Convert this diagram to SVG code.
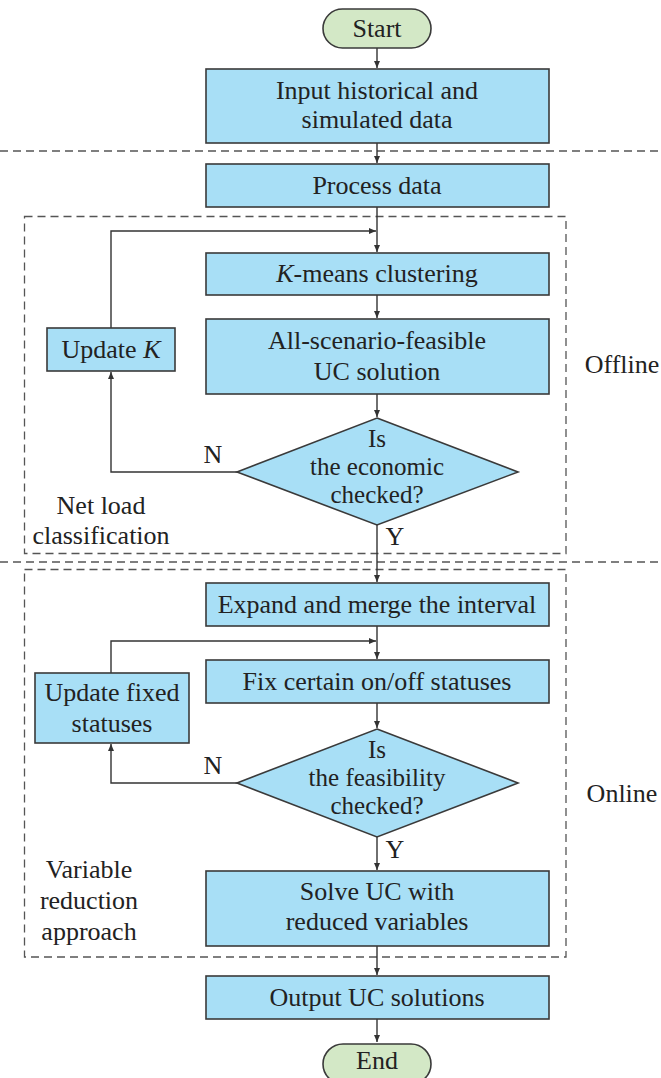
<svg xmlns="http://www.w3.org/2000/svg" width="661" height="1078" viewBox="0 0 661 1078">
<style>
text{font-family:"Liberation Serif","Times New Roman",serif;font-size:26px;fill:#222;text-anchor:middle}
.dt{font-size:25px}
.box{fill:#a8dff6;stroke:#3a3a3a;stroke-width:1.6}
.term{fill:#d3e8c6;stroke:#3a3a3a;stroke-width:1.6}
.con{fill:none;stroke:#333;stroke-width:1.4}
.dash{fill:none;stroke:#555;stroke-width:1.3;stroke-dasharray:8 5}
</style>
<defs>
<marker id="ah" markerWidth="8" markerHeight="8" refX="7" refY="4" orient="auto" markerUnits="userSpaceOnUse">
<path d="M0,1 L7,4 L0,7 z" fill="#333"/>
</marker>
</defs>
<rect width="661" height="1078" fill="#fff"/>
<g id="separators">
<line class="dash" x1="0" y1="151" x2="661" y2="151"/>
<line class="dash" x1="0" y1="562" x2="661" y2="562"/>
<rect id="offline-region" class="dash" x="24.5" y="216.5" width="541.5" height="337"/>
<rect id="online-region" class="dash" x="24.5" y="569.5" width="541.5" height="387.5"/>
</g>
<g id="connectors">
<line class="con" x1="377" y1="48" x2="377" y2="68" marker-end="url(#ah)"/>
<line class="con" x1="377" y1="143" x2="377" y2="163" marker-end="url(#ah)"/>
<line class="con" x1="377" y1="207" x2="377" y2="252" marker-end="url(#ah)"/>
<polyline class="con" points="111,328 111,231 376,231" marker-end="url(#ah)"/>
<line class="con" x1="377" y1="295" x2="377" y2="318" marker-end="url(#ah)"/>
<line class="con" x1="377" y1="394" x2="377" y2="417" marker-end="url(#ah)"/>
<polyline class="con" points="237,472 111,472 111,372" marker-end="url(#ah)"/>
<line class="con" x1="377" y1="525" x2="377" y2="582" marker-end="url(#ah)"/>
<line class="con" x1="377" y1="626" x2="377" y2="659" marker-end="url(#ah)"/>
<polyline class="con" points="111,673 111,641 376,641" marker-end="url(#ah)"/>
<line class="con" x1="377" y1="703" x2="377" y2="728" marker-end="url(#ah)"/>
<polyline class="con" points="237,783 111,783 111,744" marker-end="url(#ah)"/>
<line class="con" x1="377" y1="837" x2="377" y2="870" marker-end="url(#ah)"/>
<line class="con" x1="377" y1="946" x2="377" y2="975" marker-end="url(#ah)"/>
<line class="con" x1="377" y1="1019" x2="377" y2="1042" marker-end="url(#ah)"/>
<text x="213" y="463">N</text>
<text x="395" y="545">Y</text>
<text x="213" y="774">N</text>
<text x="395" y="858">Y</text>
</g>
<g id="start"><rect class="term" x="323" y="9" width="108" height="39" rx="19.5"/><text x="377" y="37">Start</text></g>
<g id="input"><rect class="box" x="206" y="69" width="343" height="74"/><text x="377" y="99">Input historical and</text><text x="377" y="128">simulated data</text></g>
<g id="process"><rect class="box" x="206" y="164" width="343" height="43"/><text x="377" y="194">Process data</text></g>
<g id="kmeans"><rect class="box" x="206" y="253" width="343" height="42"/><text x="377" y="282"><tspan font-style="italic">K</tspan>-means clustering</text></g>
<g id="allscenario"><rect class="box" x="206" y="319" width="343" height="75"/><text x="377" y="349">All-scenario-feasible</text><text x="377" y="380">UC solution</text></g>
<g id="updatek"><rect class="box" x="47" y="328" width="128" height="43"/><text x="111" y="358">Update <tspan font-style="italic">K</tspan></text></g>
<g id="economic"><polygon class="box" points="377,418 518,472 377,525 237,472"/><text class="dt" x="377" y="447">Is</text><text class="dt" x="377" y="475">the economic</text><text class="dt" x="377" y="503">checked?</text></g>
<g id="expand"><rect class="box" x="206" y="583" width="343" height="43"/><text x="377" y="613">Expand and merge the interval</text></g>
<g id="fix"><rect class="box" x="206" y="660" width="343" height="43"/><text x="377" y="690">Fix certain on/off statuses</text></g>
<g id="updatefixed"><rect class="box" x="35" y="673" width="154" height="70"/><text x="112" y="701">Update fixed</text><text x="112" y="732">statuses</text></g>
<g id="feasibility"><polygon class="box" points="377,729 518,783 377,837 237,783"/><text class="dt" x="377" y="758">Is</text><text class="dt" x="377" y="786">the feasibility</text><text class="dt" x="377" y="814">checked?</text></g>
<g id="solve"><rect class="box" x="206" y="871" width="343" height="75"/><text x="377" y="900">Solve UC with</text><text x="377" y="930">reduced variables</text></g>
<g id="output"><rect class="box" x="206" y="976" width="343" height="43"/><text x="377" y="1006">Output UC solutions</text></g>
<g id="end"><rect class="term" x="323" y="1044" width="108" height="40" rx="20"/><text x="377" y="1069">End</text></g>
<g id="labels">
<text x="101" y="514">Net load</text>
<text x="101" y="544">classification</text>
<text x="622" y="373">Offline</text>
<text x="89" y="878">Variable</text>
<text x="89" y="909">reduction</text>
<text x="89" y="940">approach</text>
<text x="622" y="802">Online</text>
</g>
</svg>
